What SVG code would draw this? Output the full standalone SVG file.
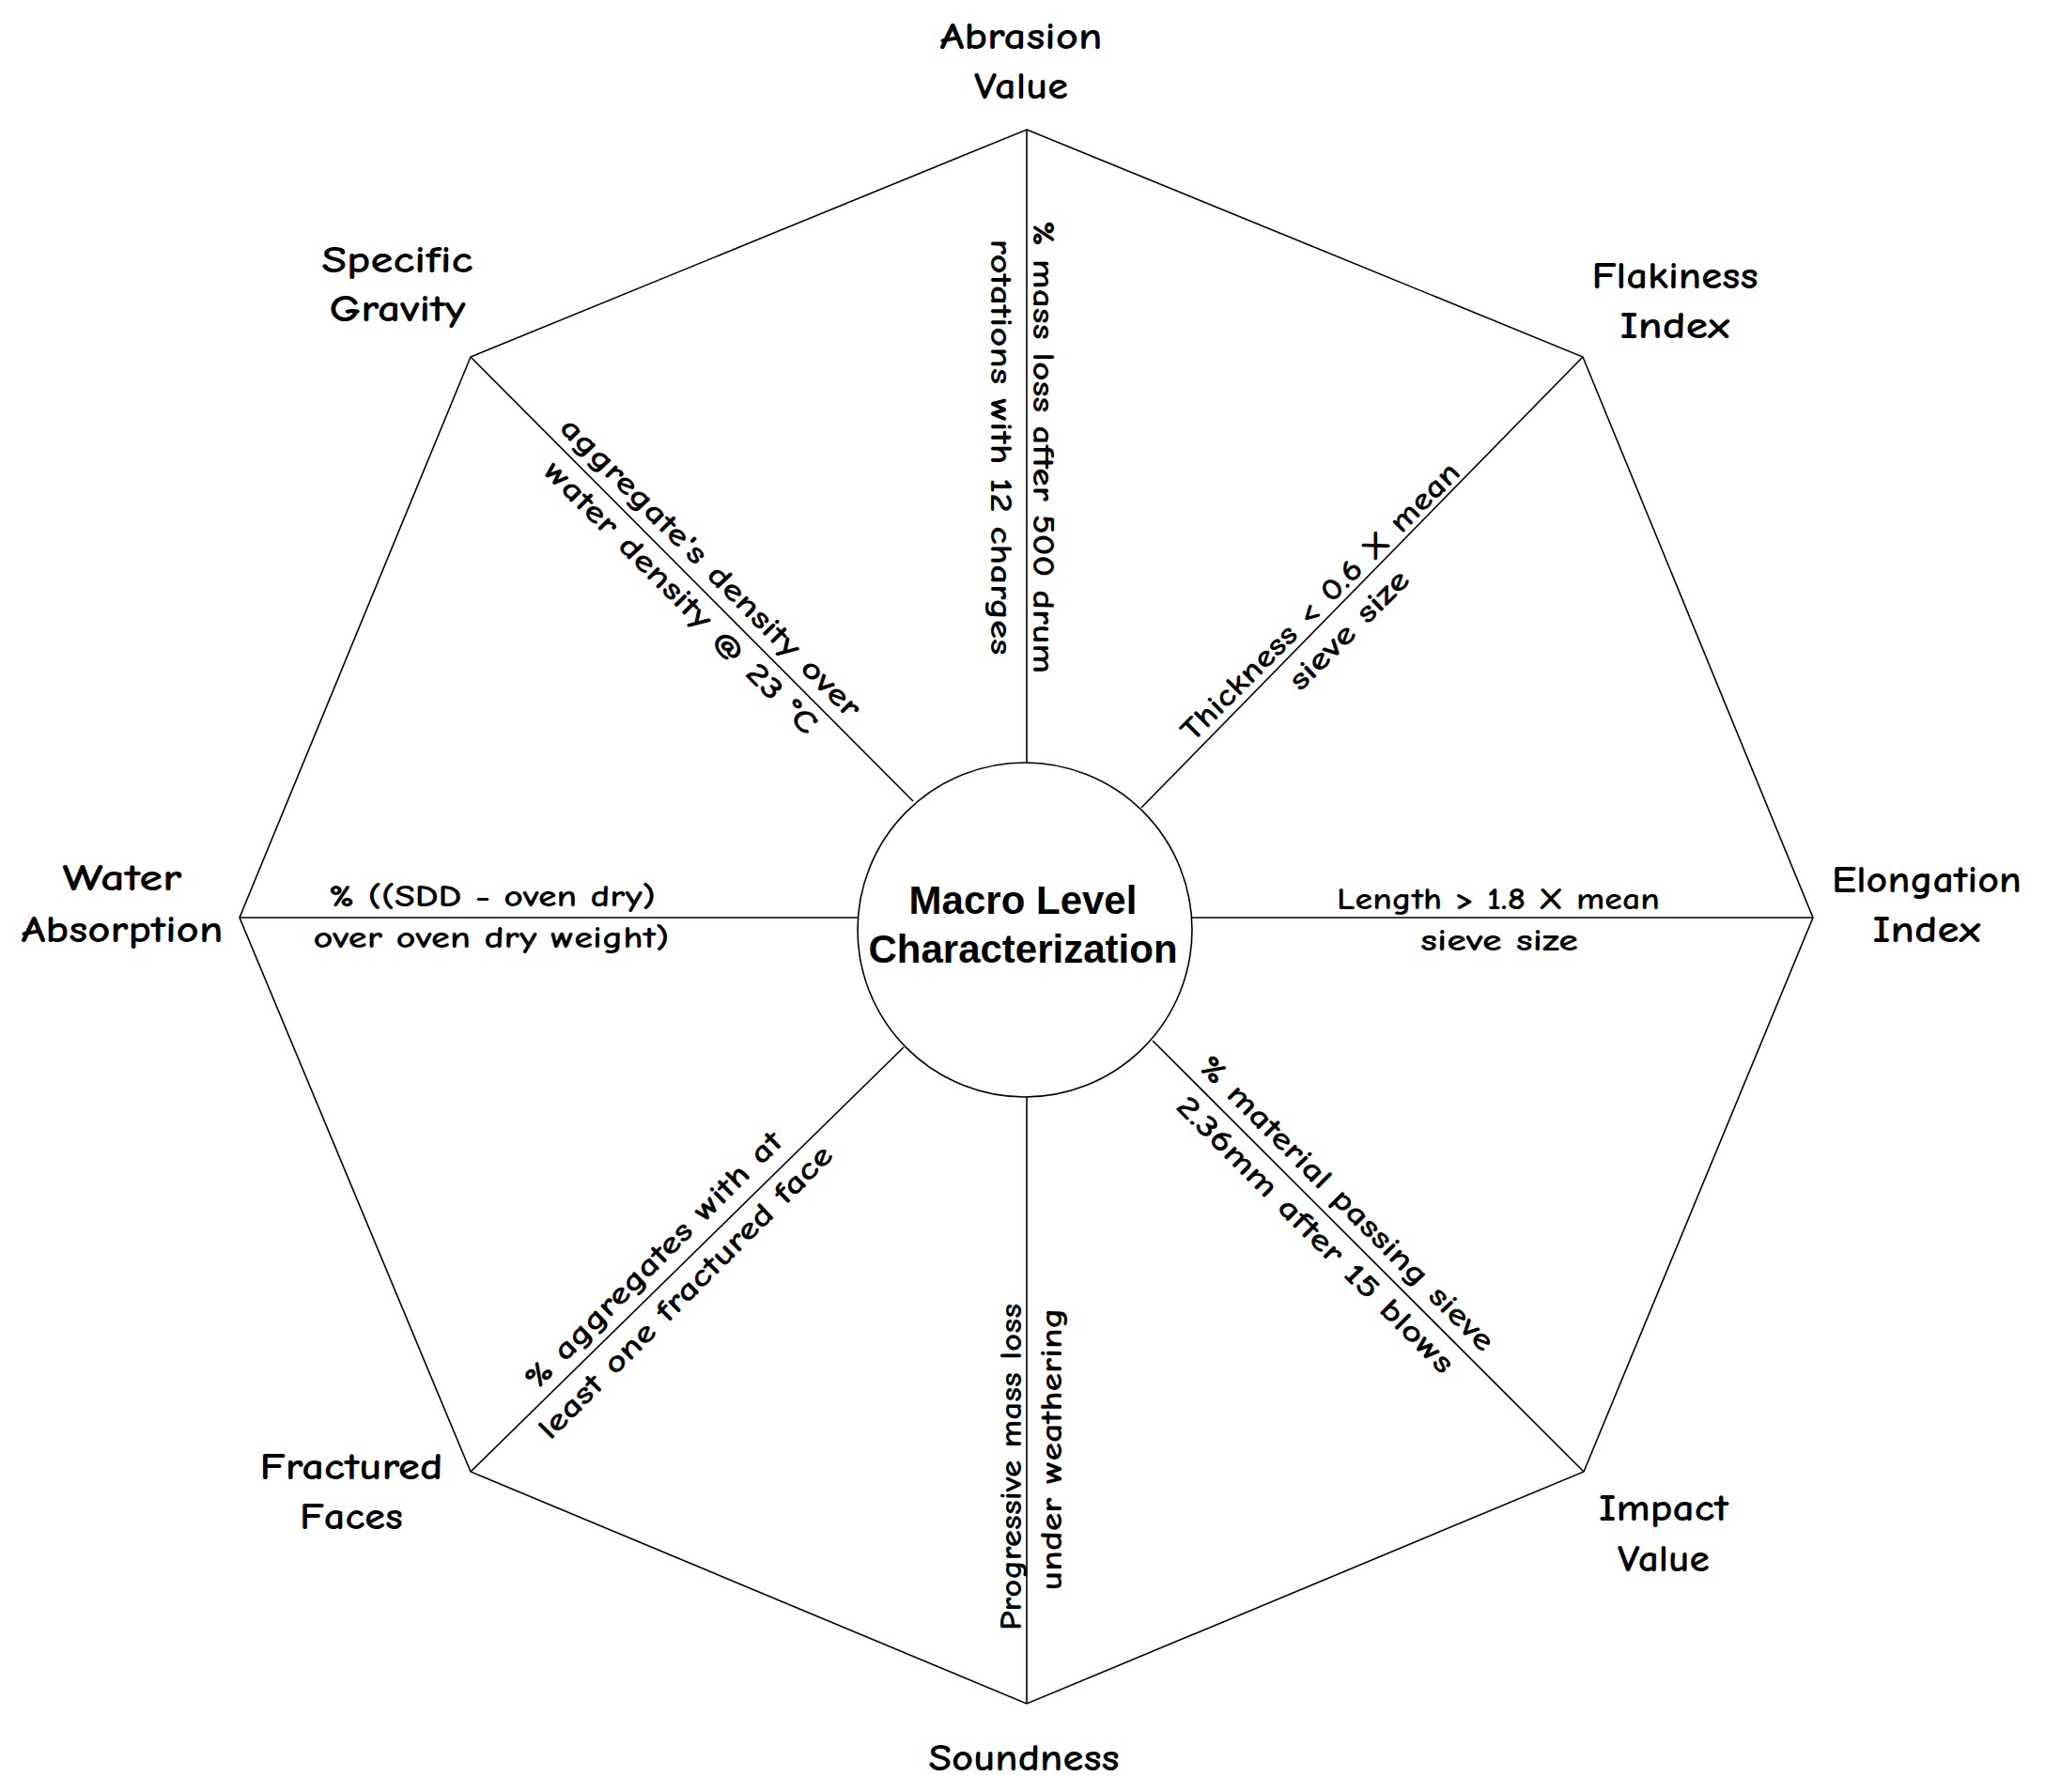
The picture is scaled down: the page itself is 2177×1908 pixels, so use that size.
<svg xmlns="http://www.w3.org/2000/svg" width="2177" height="1908" viewBox="0 0 2177 1908">
<style>
.edge{stroke:#000;stroke-width:1.6;fill:none}
.lbl{font-family:"Comic Sans MS","Comic Neue","DejaVu Sans",sans-serif;font-size:40px;font-weight:bold;fill:#000;text-anchor:middle}
.sub{font-family:"Comic Sans MS","Comic Neue","DejaVu Sans",sans-serif;font-size:33px;font-weight:bold;fill:#000;text-anchor:middle}
.core{font-family:"Liberation Sans",Arial,sans-serif;font-weight:bold;font-size:42px;fill:#000;text-anchor:middle}
</style>
<rect width="2177" height="1908" fill="#fff"/>
<g id="frame">
<polygon class="edge" points="1093,138 1685,380 1930,977 1686,1567 1093,1814 501,1567 255,977 501,380"/>
</g>
<g id="connectors">
<line class="edge" x1="1093" y1="138" x2="1093" y2="812"/>
<line class="edge" x1="1685" y1="380" x2="1215" y2="860"/>
<line class="edge" x1="1930" y1="977" x2="1268" y2="977"/>
<line class="edge" x1="1686" y1="1567" x2="1227" y2="1108"/>
<line class="edge" x1="1093" y1="1814" x2="1093" y2="1168"/>
<line class="edge" x1="501" y1="1567" x2="962" y2="1115"/>
<line class="edge" x1="255" y1="977" x2="913" y2="977"/>
<line class="edge" x1="501" y1="380" x2="972" y2="853"/>
</g>
<g id="center">
<circle cx="1091" cy="990" r="178" fill="#fff" stroke="#000" stroke-width="1.6"/>
<text class="core" x="1089" y="973">Macro Level</text>
<text class="core" x="1089" y="1025">Characterization</text>
</g>
<g id="abrasion">
<text class="lbl" x="1087" y="52" textLength="173" lengthAdjust="spacingAndGlyphs">Abrasion</text>
<text class="lbl" x="1087" y="105" textLength="100" lengthAdjust="spacingAndGlyphs">Value</text>
<g transform="translate(1093,476) rotate(90)">
<text class="sub" x="0" y="-7" textLength="482" lengthAdjust="spacingAndGlyphs">% mass loss after 500 drum</text>
<text class="sub" x="0" y="38" textLength="443" lengthAdjust="spacingAndGlyphs">rotations with 12 charges</text>
</g>
</g>
<g id="flakiness">
<text class="lbl" x="1783" y="307" textLength="177" lengthAdjust="spacingAndGlyphs">Flakiness</text>
<text class="lbl" x="1783" y="360" textLength="117" lengthAdjust="spacingAndGlyphs">Index</text>
<g transform="translate(1415,650) rotate(-45)">
<text class="sub" x="0" y="-3" textLength="405" lengthAdjust="spacingAndGlyphs">Thickness &lt; 0.6 X mean</text>
<text class="sub" x="0" y="40" textLength="167" lengthAdjust="spacingAndGlyphs">sieve size</text>
</g>
</g>
<g id="elongation">
<text class="lbl" x="2051" y="950" textLength="202" lengthAdjust="spacingAndGlyphs">Elongation</text>
<text class="lbl" x="2051" y="1003" textLength="115" lengthAdjust="spacingAndGlyphs">Index</text>
<text class="sub" x="1595" y="968" textLength="344" lengthAdjust="spacingAndGlyphs">Length &gt; 1.8 X mean</text>
<text class="sub" x="1596" y="1012" textLength="168" lengthAdjust="spacingAndGlyphs">sieve size</text>
</g>
<g id="impact">
<text class="lbl" x="1771" y="1619" textLength="138" lengthAdjust="spacingAndGlyphs">Impact</text>
<text class="lbl" x="1771" y="1673" textLength="98" lengthAdjust="spacingAndGlyphs">Value</text>
<g transform="translate(1417,1298) rotate(45)">
<text class="sub" x="0" y="-13" textLength="430" lengthAdjust="spacingAndGlyphs">% material passing sieve</text>
<text class="sub" x="0" y="34" textLength="403" lengthAdjust="spacingAndGlyphs">2.36mm after 15 blows</text>
</g>
</g>
<g id="soundness">
<text class="lbl" x="1090" y="1885" textLength="203" lengthAdjust="spacingAndGlyphs">Soundness</text>
<g transform="translate(1093,1553) rotate(-90)">
<text class="sub" x="-9" y="-6" textLength="348" lengthAdjust="spacingAndGlyphs">Progressive mass loss</text>
<text class="sub" x="10" y="37" textLength="301" lengthAdjust="spacingAndGlyphs">under weathering</text>
</g>
</g>
<g id="fractured">
<text class="lbl" x="374" y="1575" textLength="195" lengthAdjust="spacingAndGlyphs">Fractured</text>
<text class="lbl" x="374" y="1628" textLength="110" lengthAdjust="spacingAndGlyphs">Faces</text>
<g transform="translate(713,1359) rotate(-45)">
<text class="sub" x="0" y="-14" textLength="373" lengthAdjust="spacingAndGlyphs">% aggregates with at</text>
<text class="sub" x="0" y="34" textLength="428" lengthAdjust="spacingAndGlyphs">least one fractured face</text>
</g>
</g>
<g id="water">
<text class="lbl" x="130" y="948" textLength="127" lengthAdjust="spacingAndGlyphs">Water</text>
<text class="lbl" x="130" y="1003" textLength="215" lengthAdjust="spacingAndGlyphs">Absorption</text>
<text class="sub" x="524" y="965" textLength="348" lengthAdjust="spacingAndGlyphs">% ((SDD - oven dry)</text>
<text class="sub" x="523" y="1009" textLength="379" lengthAdjust="spacingAndGlyphs">over oven dry weight)</text>
</g>
<g id="specific">
<text class="lbl" x="423" y="290" textLength="161" lengthAdjust="spacingAndGlyphs">Specific</text>
<text class="lbl" x="423" y="342" textLength="145" lengthAdjust="spacingAndGlyphs">Gravity</text>
<g transform="translate(740,621) rotate(45)">
<text class="sub" x="0" y="-13" textLength="438" lengthAdjust="spacingAndGlyphs">aggregate's density over</text>
<text class="sub" x="0" y="32" textLength="397" lengthAdjust="spacingAndGlyphs">water density @ 23 °C</text>
</g>
</g>
</svg>
